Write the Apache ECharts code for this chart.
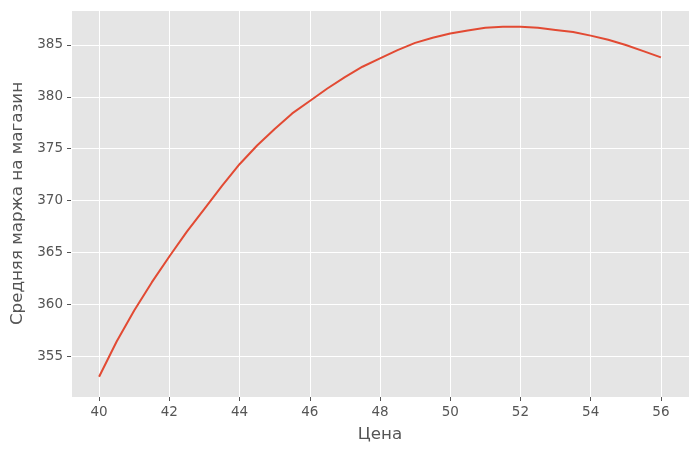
<!DOCTYPE html>
<html>
<head>
<meta charset="utf-8">
<script src="https://cdn.jsdelivr.net/npm/echarts@6/dist/echarts.min.js"></script>
<style>
  html, body { margin: 0; padding: 0; background: #fff; }
  #chart { width: 699px; height: 452px; }
</style>
</head>
<body>
<div id="chart"></div>
<script>
// цены
var prices = [40, 40.5, 41, 41.5, 42, 42.5, 43, 43.5, 44, 44.5, 45, 45.5, 46, 46.5, 47, 47.5,
  48, 48.5, 49, 49.5, 50, 50.5, 51, 51.5, 52, 52.5, 53, 53.5, 54, 54.5, 55, 55.5, 56];
// средняя маржа
var margins = [353.0, 356.4, 359.4, 362.1, 364.6, 367.0, 369.2, 371.4, 373.5, 375.3, 376.9, 378.4, 379.6, 380.8,
  381.9, 382.9, 383.7, 384.5, 385.2, 385.7, 386.1, 386.4, 386.65, 386.75, 386.75, 386.65, 386.45, 386.25,
  385.9, 385.5, 385.0, 384.4, 383.8];

var seriesData = prices.map(function (p, i) { return [p, margins[i]]; });

var chart = echarts.init(document.getElementById("chart"));

var textColor = "#555555";
var fontFamily = "DejaVu Sans";

var option = {
  animation: false,
  grid: {
    left: 71,
    right: 10,
    top: 10,
    bottom: 55,
    show: true,
    backgroundColor: "#E5E5E5",
    borderWidth: 0,
  },
  xAxis: {
    type: "value",
    min: 39.2,
    max: 56.8,
    minInterval: 2,
    maxInterval: 2,
    name: "Цена",
    nameLocation: "middle",
    nameGap: 29,
    nameTextStyle: { color: textColor, fontSize: 16.7, fontFamily: fontFamily },
    axisLine: { show: false },
    axisTick: { show: true, length: 4, lineStyle: { color: textColor } },
    axisLabel: {
      color: textColor, fontSize: 13.5, fontFamily: fontFamily, margin: 8,
      showMinLabel: false, showMaxLabel: false,
    },
    splitLine: { show: true, lineStyle: { color: "#ffffff", width: 1 } },
  },
  yAxis: {
    type: "value",
    min: 351.05,
    max: 388.37,
    minInterval: 5,
    maxInterval: 5,
    name: "Средняя маржа на магазин",
    nameLocation: "middle",
    nameGap: 44,
    nameTextStyle: { color: textColor, fontSize: 16.7, fontFamily: fontFamily },
    axisLine: { show: false },
    axisTick: { show: true, length: 4, lineStyle: { color: textColor } },
    axisLabel: {
      color: textColor, fontSize: 13.5, fontFamily: fontFamily, margin: 8,
      showMinLabel: false, showMaxLabel: false,
    },
    splitLine: { show: true, lineStyle: { color: "#ffffff", width: 1 } },
  },
  series: [
    {
      type: "line",
      data: seriesData,
      showSymbol: false,
      symbol: "none",
      lineStyle: { color: "#E24A33", width: 2 },
    },
  ],
};

chart.setOption(option);
</script>
</body>
</html>
